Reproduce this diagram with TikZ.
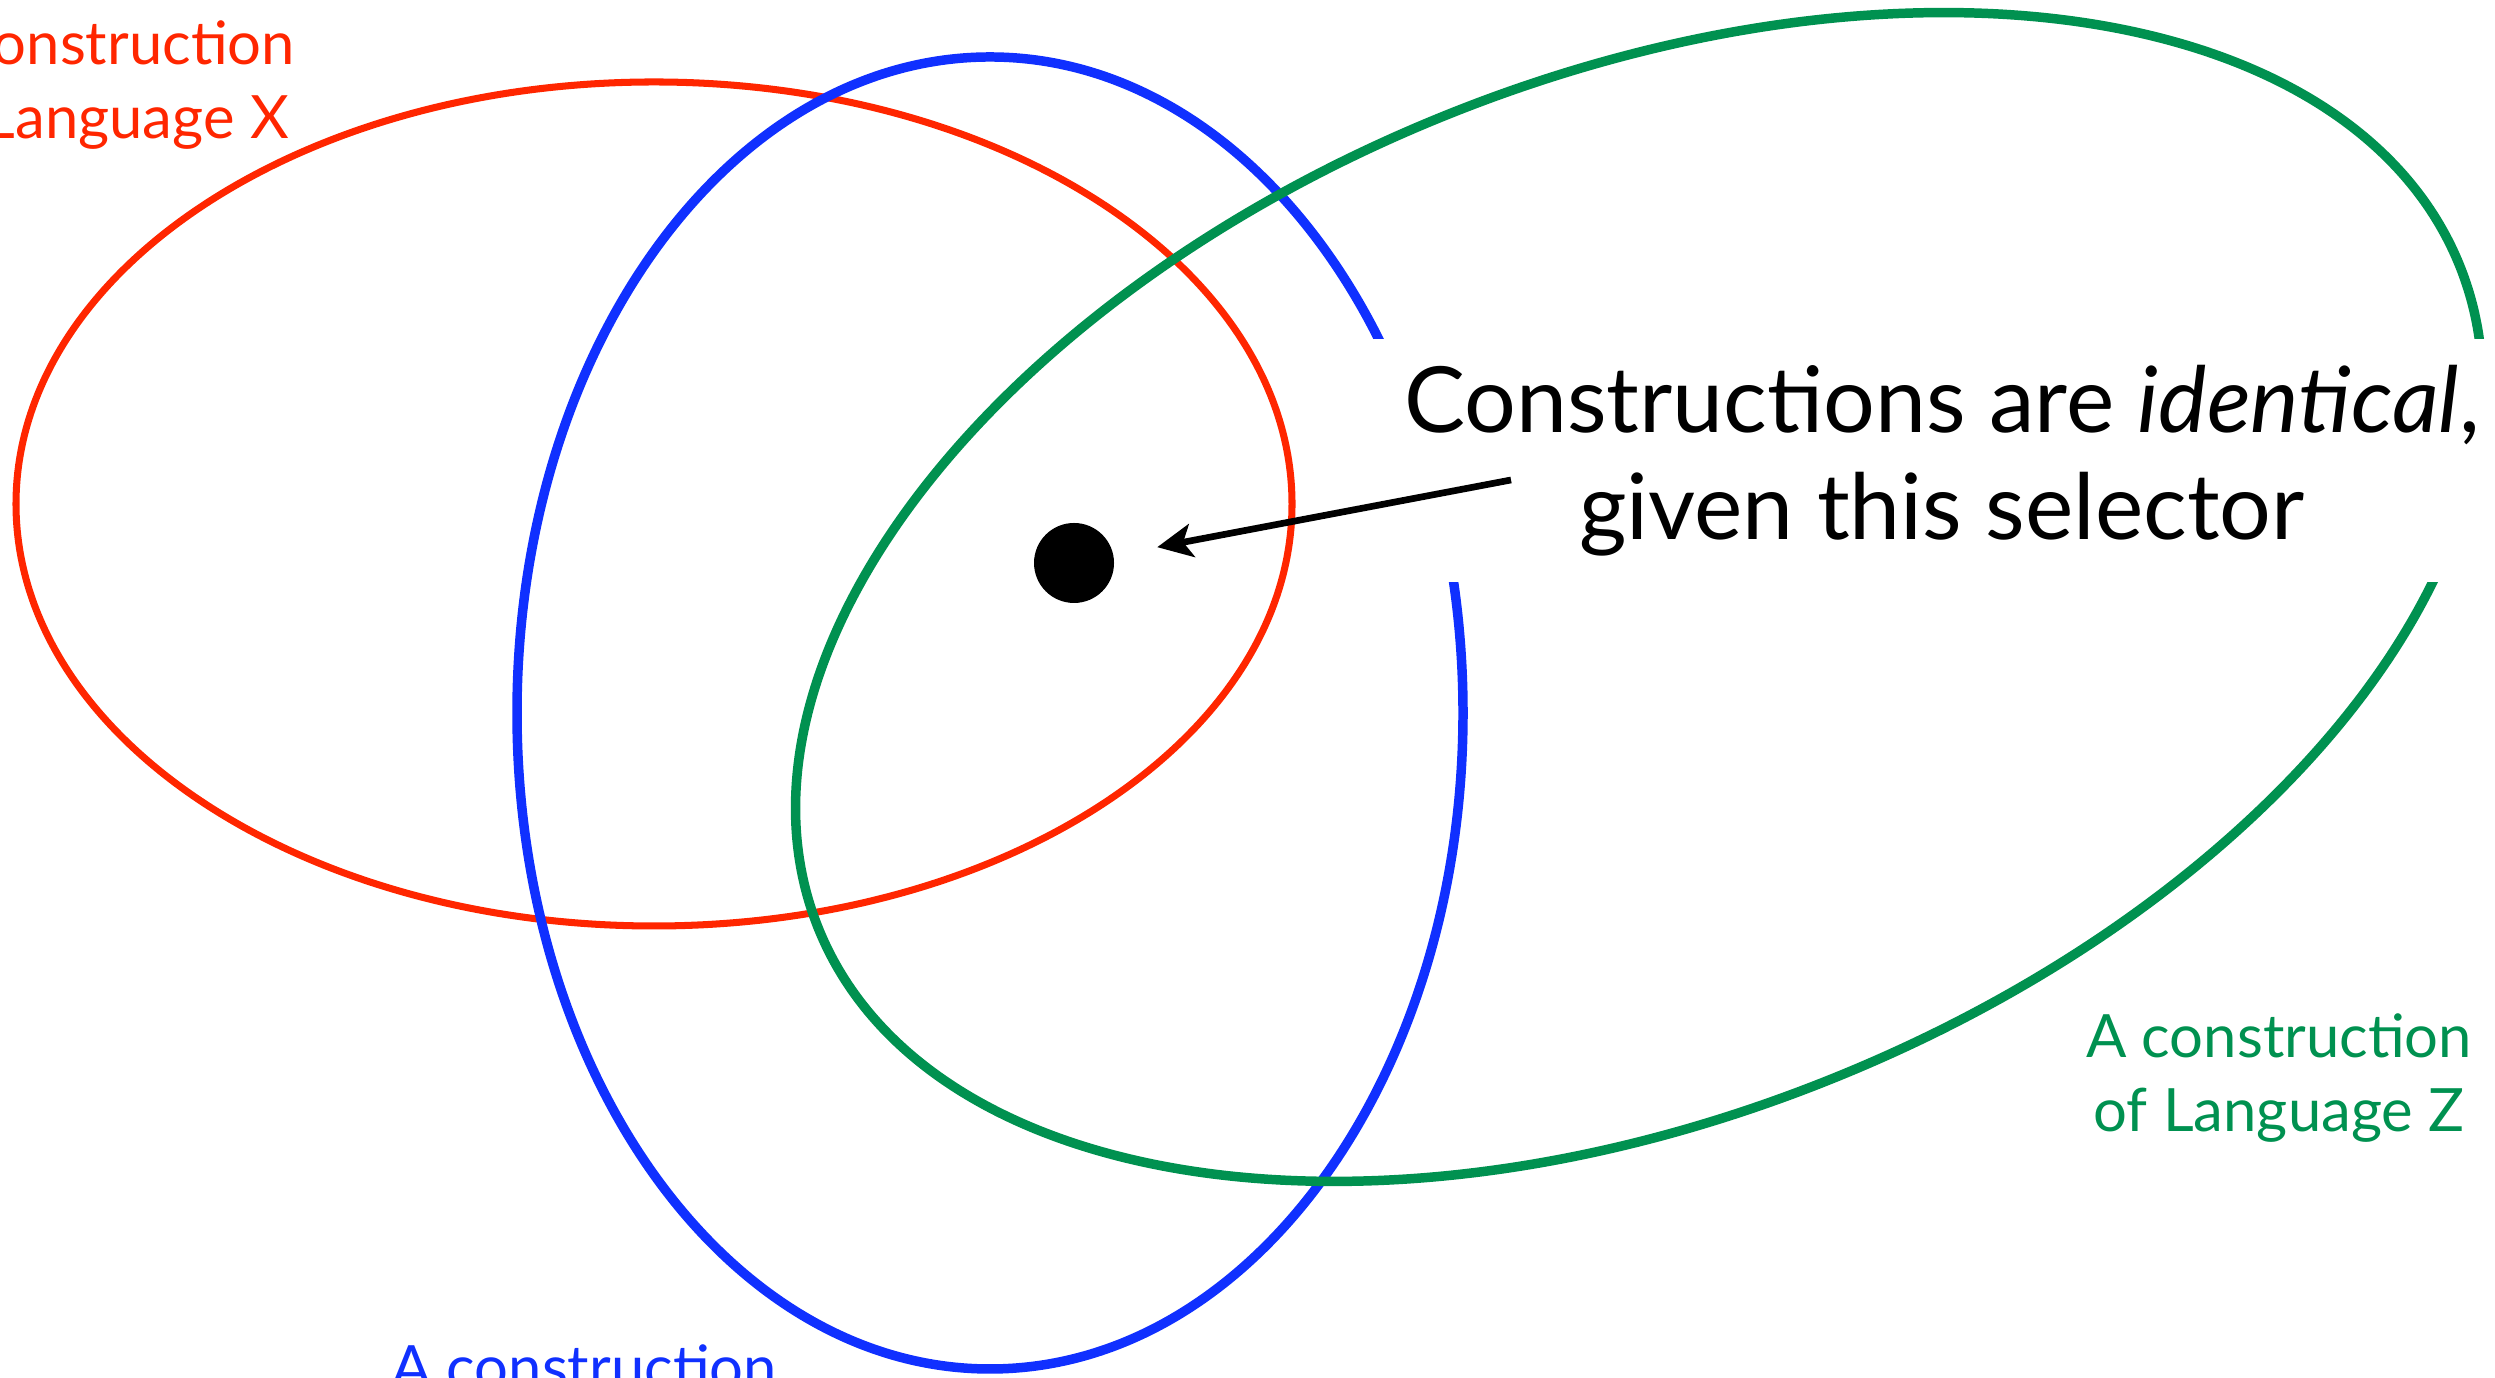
\documentclass[tikz,border=0pt]{standalone}
\usepackage{fontspec}
\setmainfont{Lato}
\usepackage{tikz}
\usetikzlibrary{arrows.meta, positioning}
\definecolor{langred}{RGB}{255,38,0}
\definecolor{langblue}{RGB}{16,48,255}
\definecolor{langgreen}{RGB}{0,145,80}

\begin{document}
\begin{tikzpicture}[
    ring/.style={line width=2.7pt},
    setlabel/.style={align=center, font=\fontsize{17}{21}\selectfont},
    selector/.style={align=center, fill=white, inner xsep=0.75cm, minimum height=2.43cm, font=\fontsize{26}{30.5}\selectfont},
    dot/.style={circle, fill=black, minimum size=0.8cm, inner sep=0pt},
    arrow/.style={-{Stealth[length=10pt, width=9.5pt, inset=2.5pt]}, line width=1.9pt}
]
    \useasboundingbox (0,0) rectangle (24.95,13.78);

    % Sets of constructions
    \draw[ring, langred, line width=2pt] (6.54,8.74) ellipse [x radius=6.38cm, y radius=4.22cm];
    \draw[ring, langblue] (9.90,6.65) ellipse [x radius=4.73cm, y radius=6.56cm];
    \draw[ring, langgreen, rotate around={22:(16.39,7.81)}] (16.39,7.81) ellipse [x radius=8.85cm, y radius=5.19cm];

    % Labels
    \node[setlabel, text=langred] (xlabel) at (1.02,12.93) {A construction\\of Language X};
    \node[setlabel, text=langblue, anchor=base] (ylabel) at (5.84,-0.11) {A construction};
    \node[setlabel, text=langgreen] (zlabel) at (22.79,3.00) {A construction\\of Language Z};

    % Selector
    \node[selector] (sel) at (19.42,9.17) {Constructions are \textit{identical},\\given this selector};
    \node[dot] (point) at (10.74,8.15) {};
    \coordinate (tail) at (15.11,8.98);

    % Connections
    \draw[arrow, shorten >=0.44cm] (tail) -- (point);
\end{tikzpicture}
\end{document}
